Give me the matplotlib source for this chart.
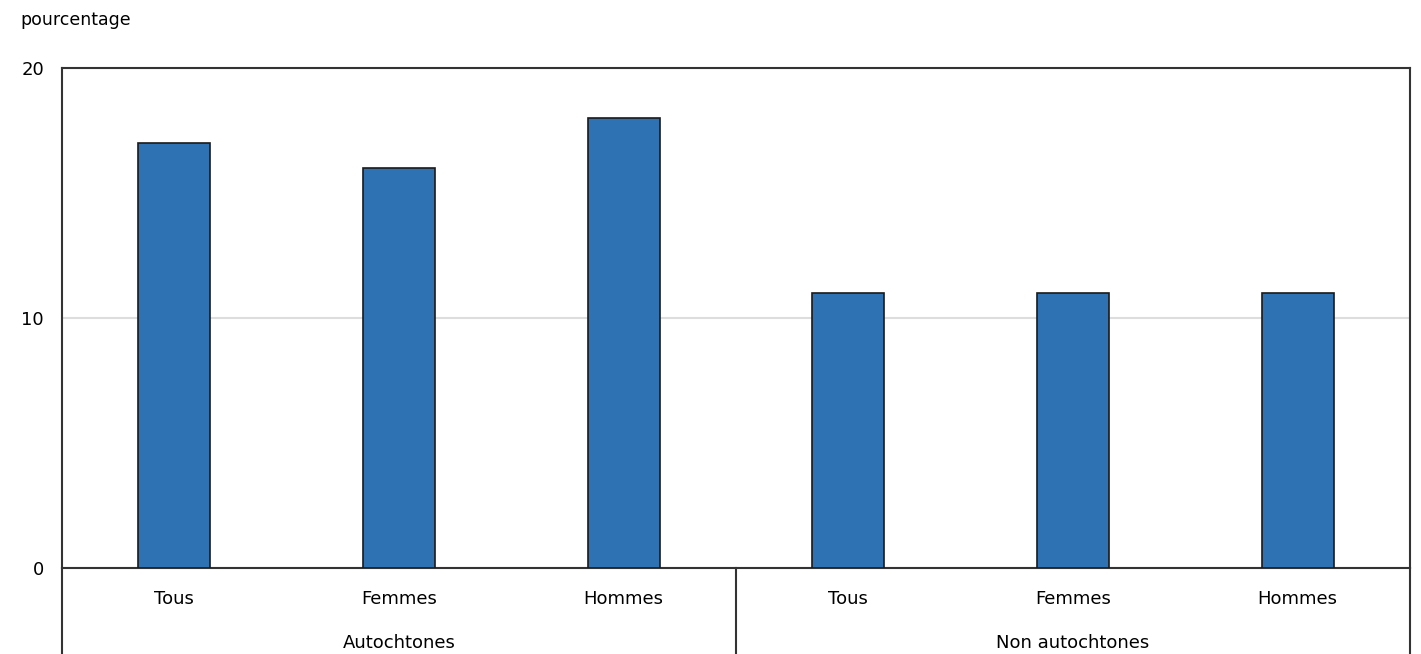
import matplotlib.pyplot as plt
import numpy as np

groups = ["Autochtones", "Non autochtones"]
categories = ["Tous", "Femmes", "Hommes"]
values = [17, 16, 18, 11, 11, 11]

W, H = 1421, 654
fig = plt.figure(figsize=(W / 100, H / 100), dpi=100)
ax = fig.add_axes([62 / W, (H - 568) / H, (1410 - 62) / W, 500 / H])

x = np.arange(len(values))
ax.bar(x, values, width=0.32, color="#2E72B3", edgecolor="#1a1a1a", linewidth=1.2, zorder=3)

ax.set_xlim(-0.5, len(values) - 0.5)
ax.set_ylim(0, 20)
ax.set_yticks([0, 10, 20])
ax.set_yticklabels(["0", "10", "20"], fontsize=13)
ax.tick_params(axis="y", length=0, pad=13)
ax.yaxis.grid(True, color="#dddddd", linewidth=1.5, zorder=0)

ax.set_xticks(x)
ax.set_xticklabels(categories * len(groups), fontsize=13)
ax.tick_params(axis="x", length=0, pad=16)

for s in ax.spines.values():
    s.set_color("#333333")
    s.set_linewidth(1.5)

# group separators below the axis
trans = ax.get_xaxis_transform()
n = len(categories)
for b in range(len(groups) + 1):
    xb = b * n - 0.5
    ax.plot([xb, xb], [0, -0.2], transform=trans, color="#333333", lw=1.5, clip_on=False)
for g, name in enumerate(groups):
    ax.text(g * n + (n - 1) / 2, -0.15, name, transform=trans, ha="center", va="center", fontsize=13)

fig.text(20 / W, 1 - 20 / H, "pourcentage", ha="left", va="center", fontsize=12.5)

fig.savefig("out.png", dpi=100)
